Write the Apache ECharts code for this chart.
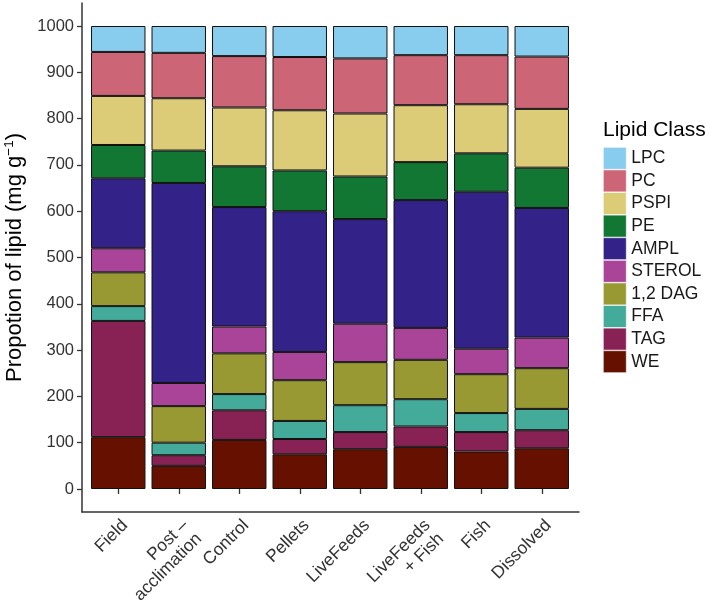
<!DOCTYPE html>
<html>
<head>
<meta charset="utf-8">
<script src="https://cdn.jsdelivr.net/npm/echarts@6/dist/echarts.min.js"></script>
<style>
  html, body { margin: 0; padding: 0; background: #fff; }
  #chart { width: 709px; height: 602px; }
</style>
</head>
<body>
<div id="chart"></div>
<script>
// treatments on the x axis
const groups = ['Field', 'Post –\nacclimation', 'Control', 'Pellets', 'LiveFeeds', 'LiveFeeds\n+ Fish', 'Fish', 'Dissolved']

// lipid class amounts (mg/g), bottom to top
const WE     = [112, 50, 106, 75, 86, 91, 81, 88]
const TAG    = [251, 23, 64, 33, 37, 44, 42, 39]
const FFA    = [32, 27, 35, 39, 58, 59, 41, 46]
const DAG    = [73, 79, 88, 88, 93, 85, 84, 88]
const STEROL = [52, 50, 58, 61, 83, 69, 55, 66]
const AMPL   = [151, 432, 258, 304, 226, 276, 339, 280]
const PE     = [72, 70, 88, 88, 92, 82, 83, 87]
const PSPI   = [106, 113, 127, 130, 136, 123, 106, 127]
const PC     = [95, 98, 111, 115, 119, 108, 106, 113]
const LPC    = [56, 58, 65, 67, 70, 63, 63, 66]

const yTicks = [0, 100, 200, 300, 400, 500, 600, 700, 800, 900, 1000]

const FONT = '"Liberation Sans", Arial, sans-serif'

// bottom-most first so the stack builds up like the figure
const classes = [
  { name: 'WE', data: WE, color: '#661100' },
  { name: 'TAG', data: TAG, color: '#882255' },
  { name: 'FFA', data: FFA, color: '#44AA99' },
  { name: '1,2 DAG', data: DAG, color: '#999933' },
  { name: 'STEROL', data: STEROL, color: '#AA4499' },
  { name: 'AMPL', data: AMPL, color: '#332288' },
  { name: 'PE', data: PE, color: '#117733' },
  { name: 'PSPI', data: PSPI, color: '#DDCC77' },
  { name: 'PC', data: PC, color: '#CC6677' },
  { name: 'LPC', data: LPC, color: '#88CCEE' }
]

const chart = echarts.init(document.getElementById('chart'))

chart.setOption({
  animation: false,
  textStyle: { fontFamily: FONT },
  title: {
    text: 'Lipid Class',
    left: 603,
    top: 120,
    padding: 0,
    textStyle: { fontSize: 21, fontWeight: 'normal', color: '#000', fontFamily: FONT }
  },
  legend: {
    orient: 'vertical',
    left: 603,
    top: 147,
    padding: 0,
    itemGap: 0,
    itemWidth: 23,
    itemHeight: 22,
    itemTextGap: 7,
    icon: 'rect',
    itemStyle: { borderWidth: 0.6, borderColor: '#fff' },
    data: classes.map(c => c.name).reverse(),
    textStyle: { fontSize: 17.5, color: '#1a1a1a', fontFamily: FONT }
  },
  grid: [
    // bars
    { left: 88, top: 26, width: 484, height: 463, containLabel: false, outerBoundsMode: 'none' },
    // outer frame only used for the long axis lines
    { left: 82, top: 3, width: 497, height: 509, containLabel: false, outerBoundsMode: 'none' }
  ],
  xAxis: [
    {
      type: 'category',
      gridIndex: 0,
      data: groups,
      offset: 23,
      axisLine: { show: false },
      axisTick: { show: true, alignWithLabel: true, length: 5, lineStyle: { color: '#333', width: 1.3 } },
      axisLabel: {
        rotate: 45,
        margin: 4,
        align: 'right',
        verticalAlign: 'top',
        fontSize: 17.5,
        lineHeight: 19,
        color: '#333',
        fontFamily: FONT
      }
    },
    {
      type: 'value',
      gridIndex: 1,
      min: 0,
      max: 1,
      axisLine: { show: true, lineStyle: { color: '#333', width: 1.5 } },
      axisTick: { show: false },
      axisLabel: { show: false },
      splitLine: { show: false }
    }
  ],
  yAxis: [
    {
      type: 'value',
      gridIndex: 0,
      min: yTicks[0],
      max: yTicks[yTicks.length - 1],
      interval: 100,
      offset: 6,
      name: '{a|Propotion of lipid (mg g}{s|−1}{a|)}',
      nameLocation: 'middle',
      nameGap: 48,
      nameRotate: 90,
      nameTextStyle: {
        rich: {
          a: { fontSize: 22, color: '#000', fontFamily: FONT, lineHeight: 27 },
          s: { fontSize: 13.5, color: '#000', fontFamily: FONT, lineHeight: 27, verticalAlign: 'top', padding: [0, 0, 10, 0] }
        }
      },
      axisLine: { show: false },
      axisTick: { show: true, length: 5, lineStyle: { color: '#333', width: 1.3 } },
      axisLabel: { margin: 8, fontSize: 16.5, color: '#333', fontFamily: FONT, formatter: v => String(v) },
      splitLine: { show: false }
    },
    {
      type: 'value',
      gridIndex: 1,
      min: 0,
      max: 1,
      axisLine: { show: true, lineStyle: { color: '#333', width: 1.5 } },
      axisTick: { show: false },
      axisLabel: { show: false },
      splitLine: { show: false }
    }
  ],
  series: classes.map(c => ({
    name: c.name,
    type: 'bar',
    stack: 'lipid',
    xAxisIndex: 0,
    yAxisIndex: 0,
    barCategoryGap: '10%',
    data: c.data,
    itemStyle: { color: c.color, borderColor: '#111', borderWidth: 1 }
  }))
})
</script>
</body>
</html>
